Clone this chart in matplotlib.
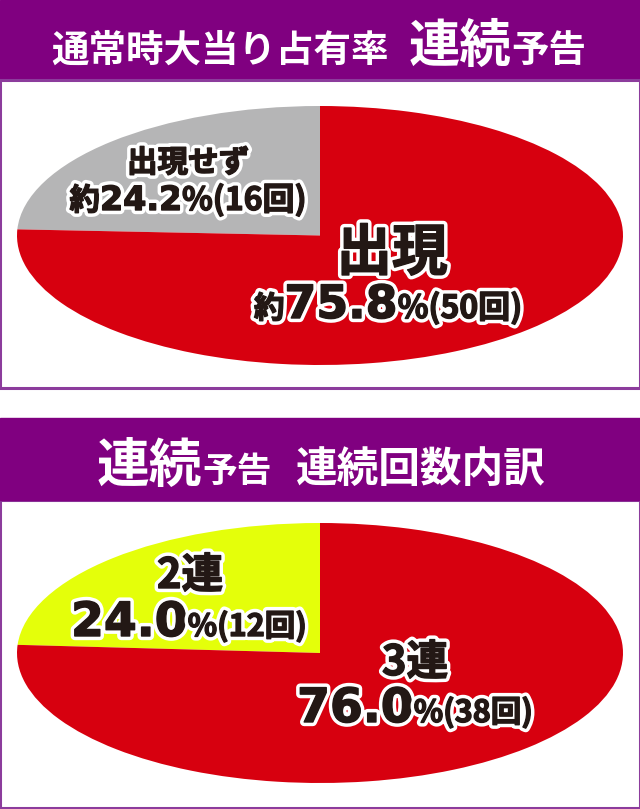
"""
Two elliptical pie charts: 連続予告 share of normal-time hits and its breakdown.
Saves out.png (640x809).
"""
import matplotlib
matplotlib.use("Agg")
import matplotlib.pyplot as plt
import matplotlib.patheffects as pe
from matplotlib.patches import Rectangle

W, H, DPI = 640, 809, 100

# ── Data ──────────────────────────────────────────────────────────────────────
title1_main = "通常時大当り占有率"
title1_big = "連続"
title1_tail = "予告"
p1_labels = ["出現せず", "出現"]
p1_counts = [16, 50]
p1_pcts = [24.2, 75.8]
p1_colors = ["#b5b5b6", "#d7000f"]

title2_big = "連続"
title2_small = "予告"
title2_tail = "連続回数内訳"
p2_labels = ["2連", "3連"]
p2_counts = [12, 38]
p2_pcts = [24.0, 76.0]
p2_colors = ["#e4ff0a", "#d7000f"]

PURPLE = "#800080"
BORDER = "#8c3c9c"
INK = "#231815"
JP = ["Noto Sans CJK JP", "DejaVu Sans"]
NUM = ["DejaVu Sans", "Noto Sans CJK JP"]

fig = plt.figure(figsize=(W / DPI, H / DPI), dpi=DPI)
renderer = fig.canvas.get_renderer()


def fx(x):
    return x / W


def fy(y):
    return 1 - y / H


def rect(x0, y0, x1, y1, **kw):
    fig.patches.append(Rectangle((fx(x0), fy(y1)), (x1 - x0) / W, (y1 - y0) / H,
                                 transform=fig.transFigure, zorder=-1, **kw))


def rich(cx, base_y, pieces, color, outline=False):
    """pieces: (text, size, family, gap_px) laid out left to right, centred on cx."""
    arts, total = [], 0
    for s, size, fam, gap in pieces:
        t = fig.text(0, fy(base_y), s, fontsize=size, family=fam, weight="bold",
                     color=color, va="baseline", ha="left", zorder=5)
        if outline:
            t.set_path_effects([pe.withStroke(linewidth=6, foreground="white"),
                                pe.Stroke(linewidth=1.0, foreground=color),
                                pe.Normal()])
        w = t.get_window_extent(renderer).width
        arts.append((t, gap, w))
        total += gap + w
    x = cx - total / 2
    for t, gap, w in arts:
        x += gap
        t.set_x(fx(x))
        x += w


def pie(top, bottom, counts, colors):
    ax = fig.add_axes([fx(17), fy(bottom), 606 / W, (bottom - top) / H])
    ax.pie(counts, colors=colors, startangle=90, counterclock=True,
           wedgeprops=dict(linewidth=0))
    ax.set_aspect("auto")
    ax.set_xlim(-1, 1)
    ax.set_ylim(-1, 1)
    ax.axis("off")


# ── Frames ────────────────────────────────────────────────────────────────────
rect(0, 0, 640, 80, color=PURPLE)
rect(0, 80, 640, 388, facecolor="white", edgecolor=BORDER, linewidth=2.2)
rect(0, 500, 640, 808, facecolor="white", edgecolor=BORDER, linewidth=2.2)
rect(0, 418, 640, 500, color=PURPLE)

# ── Panel 1 ───────────────────────────────────────────────────────────────────
rich(319, 62, [(title1_main, 27, JP, 0), (title1_big, 37, JP, 20),
               (title1_tail, 27, JP, 0)], "white")
pie(106, 365, p1_counts, p1_colors)

rich(188, 172, [(p1_labels[0], 22, JP, 0)], INK, outline=True)
rich(188, 210, [("約", 22, JP, 0), (f"{p1_pcts[0]:.1f}", 24, NUM, 0),
                (f"%({p1_counts[0]}回)", 23, JP, 0)], INK, outline=True)
rich(392, 270, [(p1_labels[1], 40, JP, 0)], INK, outline=True)
rich(388, 318, [("約", 22, JP, 0), (f"{p1_pcts[1]:.1f}", 33, NUM, 0),
                (f"%({p1_counts[1]}回)", 23, JP, 0)], INK, outline=True)

# ── Panel 2 ───────────────────────────────────────────────────────────────────
rich(321, 482, [(title2_big, 38, JP, 0), (title2_small, 25, JP, 0),
                (title2_tail, 30, JP, 24)], "white")
pie(523, 783, p2_counts, p2_colors)

rich(190, 588, [(p2_labels[0], 30, JP, 0)], INK, outline=True)
rich(189, 636, [(f"{p2_pcts[0]:.1f}", 34, NUM, 0),
                (f"%({p2_counts[0]}回)", 22, JP, 0)], INK, outline=True)
rich(415, 675, [(p2_labels[1], 30, JP, 0)], INK, outline=True)
rich(415, 722, [(f"{p2_pcts[1]:.1f}", 34, NUM, 0),
                (f"%({p2_counts[1]}回)", 22, JP, 0)], INK, outline=True)

fig.savefig("out.png", dpi=DPI)
plt.close(fig)
